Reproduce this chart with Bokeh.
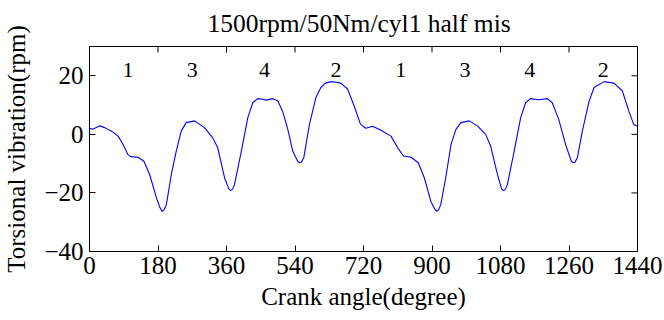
import math
from bokeh.plotting import figure
from bokeh.models import Range1d, FixedTicker, ColumnDataSource
from bokeh.core.properties import value
from bokeh.embed import file_html
from bokeh.resources import INLINE

angle = [0, 10, 27, 40, 58, 75, 88, 101, 108, 128, 143, 158, 176, 185, 191, 196, 202, 215, 228, 241, 254,
         276, 302, 324, 337, 355, 366, 371, 376, 381, 399, 416, 429, 442, 455, 464, 482, 495, 507, 520,
         534, 547, 552, 557, 563, 578, 595, 608, 620, 635, 650, 661, 678, 696, 712, 726, 744, 766, 792,
         810, 825, 845, 864, 880, 897, 906, 912, 917, 923, 936, 950, 963, 976, 998, 1020, 1041, 1054,
         1072, 1083, 1088, 1093, 1098, 1116, 1133, 1146, 1159, 1181, 1203, 1216, 1233, 1251, 1266, 1271,
         1276, 1282, 1295, 1313, 1326, 1352, 1378, 1400, 1417, 1430, 1440]
vibration = [2.0, 1.8, 2.9, 2.3, 1.1, -0.6, -3.4, -6.9, -7.6, -7.8, -9.2, -13.7, -21.7, -25.0, -26.3,
             -25.8, -24.0, -13.7, -5.7, 1.1, 4.0, 4.6, 2.3, -1.2, -4.6, -14.9, -18.6, -19.2, -18.7,
             -17.2, -5.7, 5.7, 10.8, 12.2, 12.0, 11.7, 12.2, 11.4, 8.0, 2.3, -5.7, -9.2, -9.7, -9.4,
             -8.0, 3.4, 12.6, 16.0, 17.5, 18.0, 17.8, 17.4, 15.5, 9.5, 3.5, 2.1, 2.8, 1.4, -0.6, -4.6,
             -7.4, -7.8, -9.7, -14.9, -22.9, -25.2, -26.3, -25.8, -24.0, -14.9, -3.4, 1.7, 4.0, 4.6,
             2.8, 0.0, -4.0, -13.7, -18.6, -19.2, -18.7, -17.2, -5.7, 5.7, 10.8, 12.2, 11.8, 12.2,
             10.8, 5.1, -3.4, -9.2, -9.7, -9.4, -8.0, 1.1, 11.4, 16.0, 18.0, 17.5, 14.9, 8.0, 3.4, 2.8]

cyl_labels = ["1", "3", "4", "2", "1", "3", "4", "2"]
cyl_x = [101, 270, 460, 648, 818, 987, 1157, 1350]
cyl_y = [22, 22, 22, 22, 22, 22, 22, 22]

x_ticks = [0, 180, 360, 540, 720, 900, 1080, 1260, 1440]
y_ticks = [-40, -20, 0, 20]
x_min, x_max = 0, 1440
y_min, y_max = -40, 30

FONT = "Liberation Serif"

p = figure(width=664, height=320, output_backend="svg", toolbar_location=None,
           x_range=Range1d(x_min, x_max), y_range=Range1d(y_min, y_max),
           min_border_left=88, min_border_right=27, min_border_top=46, min_border_bottom=69,
           title="1500rpm/50Nm/cyl1 half mis")
p.background_fill_color = "white"
p.border_fill_color = "white"
p.grid.visible = False
p.outline_line_color = "black"
p.outline_line_width = 1

p.title.text_font = FONT
p.title.text_font_size = "25.5px"
p.title.text_font_style = "normal"
p.title.align = "left"
p.title.offset = 118
p.title.vertical_align = "top"
p.title.standoff = 14
p.title.text_color = "black"

p.line(angle, vibration, line_color="#0000FF", line_width=1.1)

src = ColumnDataSource(dict(x=cyl_x, y=cyl_y, t=cyl_labels))
p.text(x="x", y="y", text="t", source=src, text_font=value(FONT), text_font_size="22px",
       text_align="center", text_baseline="middle", text_color="black")

# inward ticks on the top and right edges of the box
p.ray(x=x_ticks, y=[y_max] * len(x_ticks), length=6, length_units="screen",
      angle=-math.pi / 2, line_color="black", line_width=1)
p.ray(x=[x_max] * len(y_ticks), y=y_ticks, length=6, length_units="screen",
      angle=math.pi, line_color="black", line_width=1)

for ax in (p.xaxis[0], p.yaxis[0]):
    ax.axis_line_color = "black"
    ax.major_tick_line_color = "black"
    ax.major_tick_in = 6
    ax.major_tick_out = 0
    ax.minor_tick_line_color = None
    ax.major_label_text_font = FONT
    ax.major_label_text_color = "black"
    ax.major_label_text_font_size = "25px"
    ax.axis_label_text_font = FONT
    ax.axis_label_text_font_style = "normal"
    ax.axis_label_text_color = "black"
    ax.axis_label_text_font_size = "25px"

p.xaxis.ticker = FixedTicker(ticks=x_ticks)
p.yaxis.ticker = FixedTicker(ticks=y_ticks)
p.xaxis.major_label_standoff = 5
p.yaxis.major_label_standoff = 6
p.xaxis.axis_label = "Crank angle(degree)"
p.yaxis.axis_label = "Torsional vibration(rpm)"
p.xaxis.axis_label_standoff = 6
p.yaxis.axis_label_standoff = 11

open("out.html", "w").write(file_html(p, INLINE))
